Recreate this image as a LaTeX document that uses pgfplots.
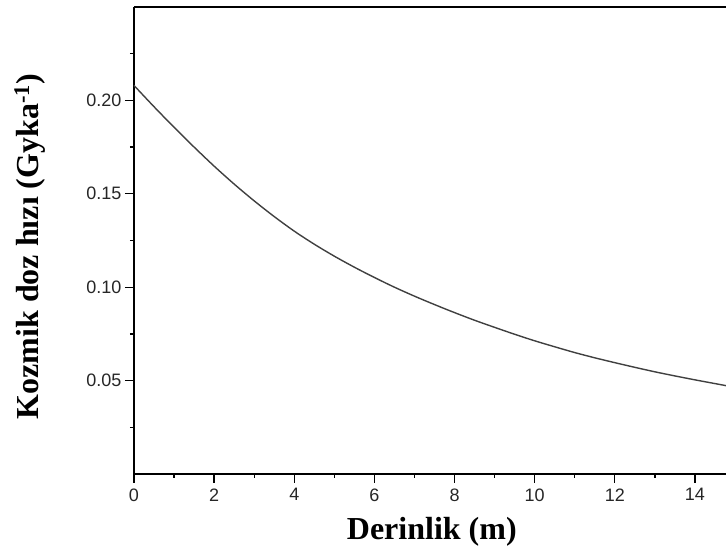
\documentclass[border=0pt]{standalone}
\usepackage{fontspec}
\setmainfont{Liberation Serif}
\setsansfont{Liberation Sans}
\usepackage{pgfplots}
\pgfplotsset{compat=1.18}
\pgfplotstableread{
x y
0 0.208
0.5 0.1966
1 0.1856
1.5 0.1750
2 0.1648
2.5 0.1552
3 0.1462
3.5 0.1378
4 0.1300
4.5 0.1230
5 0.1166
5.5 0.1107
6 0.1052
6.5 0.1000
7 0.0952
7.5 0.0907
8 0.0864
8.5 0.0823
9 0.0785
9.5 0.0748
10 0.0713
10.5 0.0681
11 0.0650
11.5 0.0622
12 0.0596
12.5 0.0571
13 0.0547
13.5 0.0525
14 0.0504
14.5 0.0484
14.775 0.0473
}\dosedata
\begin{document}
\begin{tikzpicture}
\begin{axis}[
  scale only axis, width=592pt, height=467pt,
  xmin=0, xmax=14.775, ymin=0, ymax=0.25,
  axis x line*=box, axis y line*=left,
  axis line style={-, line width=1.6pt, black},
  xtick={0,2,...,14}, minor xtick={1,3,...,13},
  ytick={0.05,0.1,0.15,0.2}, minor ytick={0.025,0.075,...,0.226},
  xtick pos=bottom, ytick pos=left, tick align=outside,
  major tick length=9pt, minor tick length=4pt,
  every tick/.style={black, line width=1.3pt},
  /pgf/number format/assume math mode=true,
  yticklabel style={/pgf/number format/.cd, fixed, fixed zerofill, precision=2},
  ticklabel style={font=\sffamily\fontsize{18}{18}\selectfont, text=black!85},
  xticklabel style={yshift=-2pt},
  every axis y label/.style={at={(axis description cs:-0.176,0.487)}, rotate=90, anchor=center},
  every axis x label/.style={at={(axis description cs:0.503,-0.124)}, anchor=center},
  label style={font=\bfseries\fontsize{32}{32}\selectfont},
  xlabel={Derinlik (m)},
  ylabel={Kozmik doz hızı (Gyka\textsuperscript{-1})},
  clip=false,
]
\addplot[black!75, line width=1.4pt, smooth] table[x=x, y=y] {\dosedata};
\coordinate (ll) at (rel axis cs:0,0);
\coordinate (ur) at (rel axis cs:1,1);
\end{axis}
\pgfresetboundingbox
\path[use as bounding box] ([shift={(-134pt,-84pt)}]ll) rectangle ([shift={(0pt,7pt)}]ur);
\end{tikzpicture}
\end{document}
